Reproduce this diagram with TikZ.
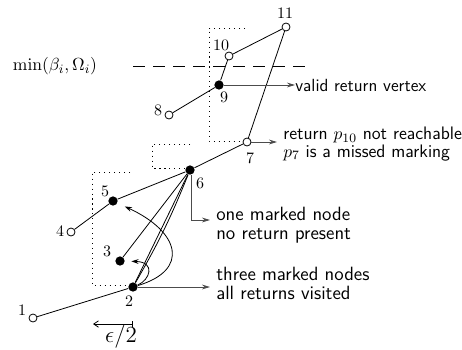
\documentclass[tikz,border=0pt]{standalone}
\usetikzlibrary{arrows.meta}
\begin{document}
\begin{tikzpicture}[x=0.625pt,y=-0.625pt,
  open/.style={circle,draw,fill=white,inner sep=0pt,minimum size=5pt,line width=0.5pt},
  full/.style={circle,fill=black,inner sep=0pt,minimum size=5.8pt},
  num/.style={inner sep=0pt,font=\normalsize},
  edge/.style={line width=0.5pt},
  annot/.style={draw=black!70,line width=0.6pt,-{Stealth[length=5pt,width=3pt]}},
  note/.style={font={\sffamily\fontsize{12}{12}\selectfont},align=left,anchor=west,inner sep=0pt},
  curv/.style={line width=0.5pt,-{Stealth[length=4.5pt,width=3pt]}},
  dots/.style={line width=0.6pt,dash pattern=on 0.7pt off 2.4pt},
]
\useasboundingbox (0,0) rectangle (462,349);

% dotted staircase
\draw[dots] (130,172) -- (92,172) -- (92,285) -- (130,285);
\draw[dots] (190,144) -- (152,144) -- (152,168) -- (186,168);
\draw[dots] (245,28) -- (209,28) -- (209,141) -- (244,141);

% dashed threshold
\coordinate (d1) at (133,66);
\coordinate (d2) at (305,66);
\draw[line width=0.6pt,dash pattern=on 7.5pt off 5pt] (d1) -- (d2);
\node[font={\fontsize{11}{13}\selectfont}] (minlab) at (55,66) {$\min(\beta_i,\Omega_i)$};

% vertices
\node[open] (n1) at (33,318) {};
\node[full] (n2) at (133,287) {};
\node[full] (n3) at (120,261) {};
\node[open] (n4) at (71,232) {};
\node[full] (n5) at (113,201) {};
\node[full] (n6) at (190,170) {};
\node[open] (n7) at (247,142) {};
\node[open] (n8) at (169,115) {};
\node[full] (n9) at (219,85) {};
\node[open] (n10) at (229,56) {};
\node[open] (n11) at (286,27) {};

% labels
\node[num] (l1) at (22,310) {1};
\node[num] (l2) at (129,301) {2};
\node[num] (l3) at (107,251) {3};
\node[num] (l4) at (60,231) {4};
\node[num] (l5) at (105,191) {5};
\node[num] (l6) at (200,183) {6};
\node[num] (l7) at (250,158) {7};
\node[num] (l8) at (158,110) {8};
\node[num] (l9) at (224,97) {9};
\node[num] (l10) at (221,45) {10};
\node[num] (l11) at (285,13) {11};

% edges
\draw[edge] (n1) -- (n2);
\draw[edge] (n2) -- (n6);
\draw[edge] (n2) to[bend right=4] (n6);
\draw[edge] (n3) -- (n6);
\draw[edge] (n4) -- (n5);
\draw[edge] (n5) -- (n6);
\draw[edge] (n6) -- (n7);
\draw[edge] (n7) -- (n11);
\draw[edge] (n11) -- (n10);
\draw[edge] (n10) -- (n9);
\draw[edge] (n9) -- (n8);

% curved arrows
\draw[curv,shorten >=5pt] (n2) .. controls (190,270) and (180,232) .. (n5);
\draw[curv,shorten >=4pt] (n2) .. controls (150,280) and (156,262) .. (n3);

% annotations
\node[note,font={\sffamily\fontsize{11}{12}\selectfont}] (t9) at (295,85) {valid return vertex};
\draw[annot] (n9) -- (t9.west);

\node[note,font={\sffamily\fontsize{11.3}{11}\selectfont}] (t7) at (283,144) {return $p_{10}$ not reachable\\$p_7$ is a missed marking};
\coordinate (c7) at (277,142);
\draw[annot] (n7) -- (c7);

\node[note] (t6) at (216,225.5) {one marked node\\no return present};
\coordinate (c6) at (210,220);
\draw[annot] (n6.-75) |- (c6);

\node[note] (t2) at (216,283.5) {three marked nodes\\all returns visited};
\coordinate (c2) at (210,287);
\draw[annot] (n2) -- (c2);

% epsilon/2
\coordinate (e1) at (133,324);
\coordinate (e2) at (93,324);
\draw[line width=0.5pt,{Bar[width=3.5pt]}-{Straight Barb[length=3pt,width=4pt]}] (e1) -- (e2);
\node[font=\Large] (eps) at (121,337) {$\epsilon/2$};
\end{tikzpicture}
\end{document}
